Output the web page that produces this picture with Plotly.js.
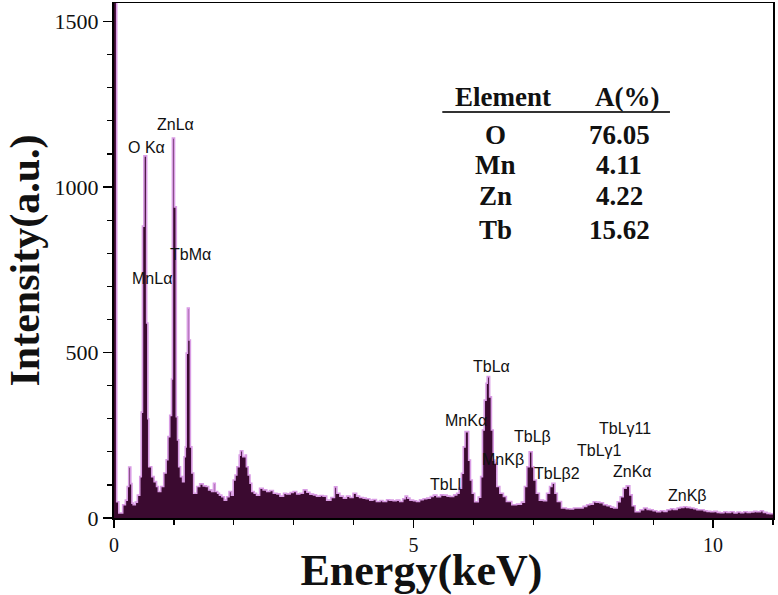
<!DOCTYPE html>
<html>
<head>
<meta charset="utf-8">
<script src="https://cdn.plot.ly/plotly-3.0.1.min.js"></script>
<style>html,body{margin:0;padding:0;background:#fff;}#chart{width:778px;height:595px;}</style>
</head>
<body>
<div id="chart"></div>
<script>
// EDS spectrum (energy in keV, intensity in a.u.)
const energy = [0.00,0.045,0.08,0.145,0.19,0.22,0.245,0.28,0.30,0.32,0.355,0.39,0.43,0.455,0.475,0.50,0.545,0.565,0.58,0.63,0.67,0.71,0.74,0.78,0.83,0.87,0.90,0.93,0.96,0.975,1.01,1.04,1.06,1.08,1.11,1.145,1.17,1.19,1.205,1.225,1.255,1.275,1.30,1.33,1.38,1.43,1.49,1.54,1.58,1.63,1.66,1.69,1.73,1.76,1.80,1.84,1.88,1.92,1.96,1.99,2.02,2.05,2.09,2.11,2.15,2.19,2.21,2.24,2.27,2.30,2.34,2.38,2.43,2.49,2.55,2.60,2.66,2.72,2.77,2.83,2.88,2.94,2.99,3.05,3.10,3.16,3.22,3.27,3.33,3.38,3.44,3.49,3.55,3.62,3.68,3.72,3.77,3.83,3.88,3.94,3.99,4.05,4.10,4.16,4.21,4.27,4.32,4.38,4.44,4.49,4.55,4.60,4.66,4.71,4.77,4.82,4.86,4.90,4.94,5.00,5.05,5.10,5.16,5.22,5.28,5.33,5.39,5.45,5.50,5.56,5.61,5.67,5.72,5.76,5.80,5.83,5.86,5.92,5.95,5.98,6.02,6.08,6.12,6.15,6.18,6.21,6.23,6.27,6.30,6.33,6.36,6.39,6.44,6.50,6.55,6.64,6.72,6.80,6.85,6.89,6.93,6.98,7.01,7.05,7.10,7.17,7.22,7.27,7.31,7.36,7.40,7.47,7.55,7.61,7.67,7.72,7.78,7.83,7.89,7.94,8.00,8.05,8.11,8.17,8.23,8.29,8.34,8.40,8.45,8.50,8.55,8.61,8.65,8.70,8.78,8.84,8.90,8.95,9.00,9.06,9.12,9.18,9.23,9.29,9.34,9.40,9.45,9.51,9.56,9.62,9.68,9.73,9.79,9.85,9.90,9.96,10.01,10.07,10.12,10.18,10.23,10.29,10.35,10.40,10.46,10.51,10.57,10.62,10.68,10.73,10.79,10.84,10.90,10.95,11.00];
const intensity = [1700,49,15,40,54,95,154,104,45,40,48,69,125,320,882,1094,589,300,155,125,110,95,80,95,136,176,246,310,420,1148,940,306,236,155,125,110,185,215,498,634,538,215,136,75,95,103,97,95,85,80,105,80,75,69,64,54,64,80,69,115,130,155,190,203,185,190,155,130,105,80,75,69,90,85,80,83,75,73,66,75,73,77,80,73,75,85,78,72,70,66,68,66,54,62,94,75,66,60,66,62,75,66,62,60,58,54,56,50,53,50,55,54,52,54,50,58,66,60,54,52,50,55,58,60,65,69,64,70,69,66,65,70,75,90,135,215,261,175,115,75,49,63,125,266,356,407,427,366,266,175,166,95,75,65,50,40,42,48,95,155,200,155,115,75,54,52,75,95,105,75,50,30,28,27,30,30,30,35,40,42,49,48,46,40,37,33,30,49,64,90,97,70,37,19,25,30,26,25,22,19,22,20,25,28,26,30,32,34,32,30,28,25,25,22,20,19,20,17,16,19,17,19,15,18,16,19,17,18,20,19,22,17,14,13,13];

// Peak labels
const peakLabels = ["O Kα","ZnLα","MnLα","TbMα","TbLα","MnKα","MnKβ","TbLβ","TbLβ2","TbLl","TbLγ1","TbLγ11","ZnKα","ZnKβ"];
const peakLabelX = [0.55,1.02,0.63,1.27,6.30,5.88,6.50,6.98,7.39,5.53,8.11,8.53,8.65,9.58];
const peakLabelY = [1120,1190,725,795,459,296,178,245,133,102,204,269,139,69];

// Composition table
const tableHeader = ["Element","A(%)"];
const elements = ["O","Mn","Zn","Tb"];
const atomicPct = ["76.05","4.11","4.22","15.62"];

const serif = "Liberation Serif, Times New Roman, serif";
const sans = "Liberation Sans, Arial, sans-serif";

const annotations = [];
peakLabels.forEach((t,i)=>{
  annotations.push({x:peakLabelX[i], y:peakLabelY[i], xref:'x', yref:'y', text:t, showarrow:false,
    font:{family:sans, size:16, color:'#111'}});
});
const colX = [6.36, 8.43];
const headerY = 1272;
const rowY = [1157,1066,973,870];
tableHeader.forEach((t,i)=>{
  annotations.push({x:[6.49,8.56][i], y:headerY, xref:'x', yref:'y', text:'<b>'+t+'</b>', showarrow:false,
    font:{family:serif, size:27, color:'#111'}});
});
elements.forEach((e,i)=>{
  annotations.push({x:colX[0], y:rowY[i], xref:'x', yref:'y', text:'<b>'+e+'</b>', showarrow:false,
    font:{family:serif, size:27, color:'#111'}});
  annotations.push({x:colX[1], y:rowY[i], xref:'x', yref:'y', text:'<b>'+atomicPct[i]+'</b>', showarrow:false,
    font:{family:serif, size:27, color:'#111'}});
});

const trace = {
  x: energy, y: intensity, type:'scatter', mode:'lines',
  line:{shape:'hv', color:'#d99ce4', width:1.6},
  fill:'tozeroy', fillcolor:'#3b0a30', hoverinfo:'skip'
};

const layout = {
  width:778, height:595,
  margin:{l:114, r:5, t:3, b:77},
  paper_bgcolor:'#fff', plot_bgcolor:'#fff',
  showlegend:false,
  xaxis:{
    range:[0,11], tickvals:[0,5,10], ticks:'outside', ticklen:8, tickwidth:1.5, tickcolor:'#000',
    showline:true, linecolor:'#000', linewidth:1.5, mirror:true, showgrid:false, zeroline:false,
    minor:{dtick:1, ticks:'outside', ticklen:5, tickwidth:1.2, tickcolor:'#000', showgrid:false},
    tickfont:{family:serif, size:20, color:'#111'},
    title:{text:'<b>Energy(keV)</b>&nbsp;&nbsp;&nbsp;&nbsp;', font:{family:serif, size:44, color:'#111'}, standoff:4}
  },
  yaxis:{
    range:[0,1556], tickvals:[0,500,1000,1500], ticks:'outside', ticklen:9, tickwidth:1.5, tickcolor:'#000',
    showline:true, linecolor:'#000', linewidth:2, mirror:true, showgrid:false, zeroline:false,
    minor:{dtick:100, ticks:'outside', ticklen:5, tickwidth:1.2, tickcolor:'#000', showgrid:false},
    tickfont:{family:serif, size:22, color:'#111'},
    title:{text:'<b>Intensity(a.u.)</b>', font:{family:serif, size:42, color:'#111'}, standoff:2}
  },
  annotations: annotations,
  shapes:[{type:'line', xref:'x', yref:'y', x0:5.48, x1:9.28, y0:1227, y1:1227, line:{color:'#333', width:2}}]
};

Plotly.newPlot('chart',[trace],layout,{displayModeBar:false, staticPlot:true});
</script>
</body>
</html>
